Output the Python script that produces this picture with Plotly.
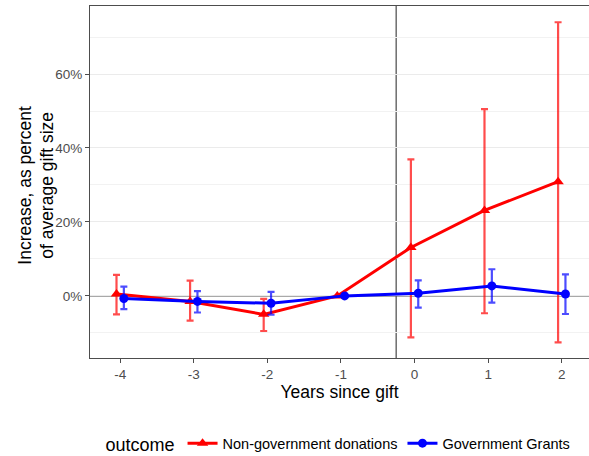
import plotly.graph_objects as go

# Event-study estimates, years relative to the gift
years = [-4, -3, -2, -1, 0, 1, 2]

nongov_est = [0.5, -1.5, -5.0, 0.0, 13.1, 23.1, 30.9]
nongov_hi = [5.7, 4.1, -0.8, 0.0, 36.9, 50.5, 74.0]
nongov_lo = [-5.0, -6.7, -9.5, 0.0, -11.2, -4.7, -12.6]

gov_est = [-0.7, -1.5, -2.0, 0.0, 0.7, 2.7, 0.5]
gov_hi = [2.5, 1.3, 1.1, 0.0, 4.2, 7.2, 5.8]
gov_lo = [-3.6, -4.5, -5.1, 0.0, -3.2, -1.8, -4.9]

series_names = ["Non-government donations", "Government Grants"]
y_ticks = [0, 20, 40, 60]
y_minor = [-10, 10, 30, 50, 70]
dodge = 0.05
gift_line = -0.25

FONT = "Liberation Sans, Arial, sans-serif"
GRID = "#EBEBEB"
AXIS = "#4D4D4D"


def series(name, est, hi, lo, offset, color, err_color, symbol, size):
    xs = [y + offset for y in years]
    return go.Scatter(
        x=xs,
        y=est,
        name=name,
        mode="lines+markers",
        line=dict(color=color, width=3),
        marker=dict(symbol=symbol, size=size, color=color),
        error_y=dict(
            type="data",
            symmetric=False,
            array=[h - e for h, e in zip(hi, est)],
            arrayminus=[e - l for e, l in zip(est, lo)],
            color=err_color,
            thickness=2.2,
            width=3.5,
        ),
    )


fig = go.Figure()
fig.add_trace(series(series_names[0], nongov_est, nongov_hi, nongov_lo, -dodge,
                     "#FF0000", "rgba(255,0,0,0.7)", "triangle-up", 10))
fig.add_trace(series(series_names[1], gov_est, gov_hi, gov_lo, dodge,
                     "#0000FF", "rgba(0,0,255,0.7)", "circle", 9))

fig.add_hline(y=0, line=dict(color="#555555", width=1.3), layer="below")
fig.add_vline(x=gift_line, line=dict(color="#555555", width=1.3), layer="below")

# y-axis title as a rotated two-line annotation for tighter line spacing
fig.add_annotation(
    text="Increase, as percent<br>of average gift size",
    xref="paper", yref="paper",
    x=-0.108, y=0.49,
    xanchor="center", yanchor="middle",
    textangle=-90,
    showarrow=False,
    font=dict(size=17.5, color="black", family=FONT),
)

fig.update_layout(
    width=589,
    height=456,
    margin=dict(l=90, r=0, t=6, b=98, autoexpand=False),
    paper_bgcolor="white",
    plot_bgcolor="white",
    font=dict(family=FONT, color="black"),
    showlegend=True,
    legend=dict(
        orientation="h",
        x=0.5,
        xanchor="center",
        y=-0.245,
        yanchor="middle",
        title=dict(text="outcome", font=dict(size=18, color="black")),
        font=dict(size=14.5, color="black"),
    ),
    xaxis=dict(
        range=[-4.41, 2.37],
        tickvals=years,
        ticktext=[str(y) for y in years],
        showgrid=False,
        zeroline=False,
        showline=True,
        linecolor=AXIS,
        linewidth=1.2,
        mirror=True,
        ticks="outside",
        ticklen=4,
        tickcolor=AXIS,
        ticklabelstandoff=0,
        tickfont=dict(size=13.5, color=AXIS),
        title=dict(text="Years since gift", font=dict(size=17.5), standoff=2),
    ),
    yaxis=dict(
        range=[-16.8, 78.4],
        tickvals=y_ticks,
        ticktext=[f"{v}%" for v in y_ticks],
        showgrid=True,
        gridcolor=GRID,
        gridwidth=1,
        zeroline=False,
        showline=True,
        linecolor=AXIS,
        linewidth=1.2,
        mirror=True,
        ticks="outside",
        ticklen=4,
        tickcolor=AXIS,
        tickfont=dict(size=13.5, color=AXIS),
        minor=dict(tickvals=y_minor, showgrid=True,
                   gridcolor="#F2F2F2", gridwidth=0.8, ticks=""),
    ),
)

fig.write_html("out.html")
